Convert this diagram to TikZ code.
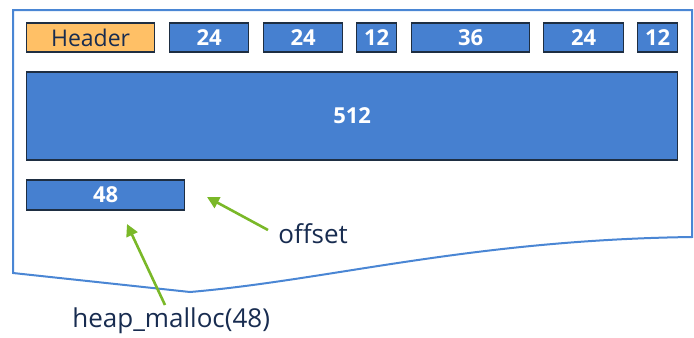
\documentclass[tikz,border=0pt]{standalone}
\usepackage{fontspec}
\setmainfont{Open Sans}
\usetikzlibrary{arrows.meta}
\definecolor{blockblue}{RGB}{70,128,208}
\definecolor{headerorange}{RGB}{255,192,102}
\definecolor{edgenavy}{RGB}{30,46,66}
\definecolor{textnavy}{RGB}{24,44,80}
\definecolor{pageblue}{RGB}{74,134,212}
\definecolor{pointgreen}{RGB}{122,184,40}
\begin{document}
\begin{tikzpicture}[
  x=0.5pt, y=-0.5pt,
  block/.style={draw=edgenavy, line width=0.6pt, fill=blockblue, text=white, font=\bfseries\fontsize{11}{13}\selectfont, inner sep=0pt, anchor=west},
  note/.style={text=textnavy, font=\fontsize{13}{15}\selectfont, inner sep=0pt, anchor=base west},
  pointer/.style={draw=pointgreen, line width=1.3pt, -{Triangle[length=6pt,width=6pt]}}
]
\useasboundingbox (0,0) rectangle (694,337);
% page outline with torn bottom edge
\draw[pageblue, line width=1pt, line join=miter] (13,273) -- (13,10) -- (692,10) -- (692,237)
  .. controls (470,240) and (330,280) .. (190,292) -- cycle;
% allocated blocks
\node[block, fill=headerorange, text=textnavy, font=\fontsize{11.5}{13}\selectfont,
  minimum width=64pt, minimum height=14.5pt] (header) at (26,37.5) {Header};
\foreach \name/\x/\w/\num in {b1/169/79/24, b2/263/79/24, b3/356/40/12, b4/411/118/36, b5/543/80/24, b6/637/40/12} {
  \node[block, minimum width=\w*0.5pt, minimum height=14.5pt] (\name) at (\x,37.5) {\num};
}
\node[block, minimum width=325.5pt, minimum height=44pt] (big) at (26,116) {512};
\node[block, minimum width=79pt, minimum height=15pt] (last) at (26,195) {48};
% labels and pointers
\node[note] (offset) at (278,243) {offset};
\node[note] (malloc) at (72,327) {heap\_malloc(48)};
\coordinate (offtip) at (207,197);
\coordinate (malloctip) at (127,224);
\draw[pointer] (268,230) -- (offtip);
\draw[pointer] (165,305) -- (malloctip);
\end{tikzpicture}
\end{document}
